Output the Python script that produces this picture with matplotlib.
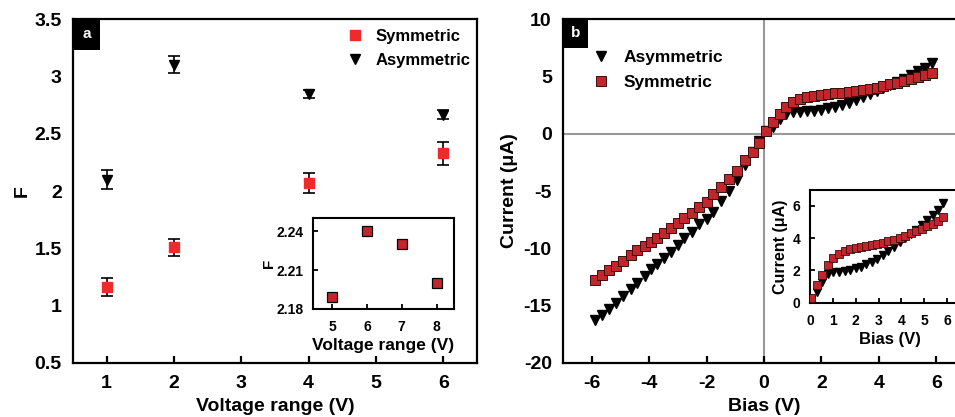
import numpy as np
import matplotlib
matplotlib.use('Agg')
import matplotlib.pyplot as plt
from matplotlib.patches import Rectangle

plt.rcParams['font.family'] = ['Liberation Sans', 'DejaVu Sans']
plt.rcParams['font.weight'] = 'bold'
plt.rcParams['axes.labelweight'] = 'bold'
plt.rcParams['axes.unicode_minus'] = False

# ---- panel a : F vs voltage range ----
vrange = [1, 2, 4, 6]
f_sym = [1.16, 1.51, 2.07, 2.33]
f_sym_err = [0.08, 0.075, 0.09, 0.10]
f_asym = [2.10, 3.10, 2.85, 2.665]
f_asym_err = [0.08, 0.075, 0.035, 0.04]

# inset a
vrange_in = [5, 6, 7, 8]
f_in = [2.189, 2.240, 2.230, 2.200]

# ---- panel b : I-V sweep ----
bias = [-5.88, -5.64, -5.41, -5.16, -4.91, -4.64, -4.42, -4.16, -3.94, -3.72,
        -3.48, -3.24, -3.00, -2.77, -2.51, -2.26, -2.00, -1.77, -1.50, -1.23,
        -0.95, -0.65, -0.39, -0.16,
        0.06, 0.30, 0.54, 0.78, 1.02, 1.27, 1.51, 1.75, 1.99, 2.23,
        2.47, 2.71, 2.95, 3.19, 3.43, 3.68, 3.92, 4.16, 4.40, 4.64,
        4.88, 5.12, 5.36, 5.60, 5.84]
i_sym = [-12.75, -12.32, -11.88, -11.50, -11.07, -10.58, -10.14, -9.76, -9.47, -9.12,
         -8.69, -8.22, -7.81, -7.38, -6.89, -6.36, -5.93, -5.26, -4.62, -3.98,
         -3.22, -2.29, -1.57, -0.78,
         0.25, 1.05, 1.72, 2.31, 2.72, 3.00, 3.18, 3.30, 3.39, 3.46,
         3.53, 3.59, 3.65, 3.71, 3.80, 3.89, 4.01, 4.15, 4.29, 4.44,
         4.59, 4.74, 4.90, 5.08, 5.30]
i_asym = [-16.24, -15.83, -15.31, -14.73, -14.15, -13.57, -12.99, -12.41, -11.82, -11.36,
          -10.87, -10.29, -9.70, -9.12, -8.54, -7.90, -7.46, -6.80, -5.90, -5.00,
          -4.00, -2.70, -1.60, -0.60,
          0.20, 0.62, 1.27, 1.73, 1.86, 1.90, 1.94, 2.00, 2.10, 2.20,
          2.35, 2.52, 2.69, 2.94, 3.19, 3.46, 3.73, 3.98, 4.23, 4.50,
          4.81, 5.12, 5.44, 5.75, 6.20]

RED = '#ee2a2a'
DKRED = '#c1262c'
EDGE = '#3a0d0d'


def style_axes(ax, lw=1.6, size=14, xpad=9, ypad=8, yticklen=0):
    for s in ax.spines.values():
        s.set_linewidth(lw)
    ax.tick_params(axis='x', direction='in', length=5, width=lw, labelsize=size, pad=xpad)
    ax.tick_params(axis='y', direction='in', length=yticklen, width=lw, labelsize=size, pad=ypad)


def style_inset(ax, size=10, xpad=7, ypad=6):
    for s in ax.spines.values():
        s.set_linewidth(1.5)
    ax.tick_params(direction='in', length=3.5, width=1.3, labelsize=size)
    ax.tick_params(axis='x', pad=xpad)
    ax.tick_params(axis='y', pad=ypad)


def panel_tag(ax, letter, w, h):
    ax.add_patch(Rectangle((0, 1 - h), w, h, transform=ax.transAxes,
                           facecolor='black', edgecolor='none', zorder=5, clip_on=False))
    ax.text(w / 2, 1 - h / 2, letter, transform=ax.transAxes, color='white',
            fontsize=11, fontweight='bold', ha='center', va='center', zorder=6)


fig = plt.figure(figsize=(9.55, 4.17), dpi=100)

# panel a
axa = fig.add_axes([0.0764, 0.1295, 0.4231, 0.8249])
ca = axa.errorbar(vrange, f_sym, yerr=f_sym_err, fmt='s', color=RED, ms=7,
                  ecolor='black', elinewidth=1.2, capsize=4, capthick=1.2)
cb = axa.errorbar(vrange, f_asym, yerr=f_asym_err, fmt='v', color='black', ms=7.5,
                  ecolor='black', elinewidth=1.2, capsize=4, capthick=1.2)
axa.set_xlim(0.5, 6.5)
axa.set_ylim(0.5, 3.5)
axa.set_xticks([1, 2, 3, 4, 5, 6])
axa.set_yticks([0.5, 1, 1.5, 2, 2.5, 3, 3.5])
axa.set_yticklabels(['0.5', '1', '1.5', '2', '2.5', '3', '3.5'])
style_axes(axa)
axa.set_xlabel('Voltage range (V)', fontsize=14, labelpad=4)
axa.set_ylabel('F', fontsize=14, labelpad=3)
axa.legend([ca[0], cb[0]], ['Symmetric', 'Asymmetric'], loc='upper right',
           bbox_to_anchor=(1.02, 1.015), frameon=False, fontsize=12,
           handletextpad=0.6, labelspacing=0.55, handlelength=1.2)
panel_tag(axa, 'a', 0.067, 0.09)

# inset a
axai = fig.add_axes([0.3277, 0.259, 0.1476, 0.2182])
axai.plot(vrange_in, f_in, 's', color=DKRED, mec='black', mew=0.9, ms=7.5)
axai.set_xlim(4.45, 8.5)
axai.set_ylim(2.18, 2.25)
axai.set_xticks([5, 6, 7, 8])
axai.set_yticks([2.18, 2.21, 2.24])
style_inset(axai, xpad=8, ypad=7)
axai.set_xlabel('Voltage range (V)', fontsize=12.5, labelpad=3)
axai.set_ylabel('F', fontsize=11, labelpad=0)

# panel b
axb = fig.add_axes([0.5895, 0.1295, 0.4210, 0.8249])
axb.axhline(0, color='#999999', lw=1.5, zorder=1)
axb.axvline(0, color='#999999', lw=1.5, zorder=1)
axb.plot(bias, i_asym, 'v', color='black', ms=7.5, zorder=3, label='Asymmetric')
axb.plot(bias, i_sym, 's', color=DKRED, mec=EDGE, mew=0.7, ms=6.5, zorder=4, label='Symmetric')
axb.set_xlim(-7, 7)
axb.set_ylim(-20, 10)
axb.set_xticks([-6, -4, -2, 0, 2, 4, 6])
axb.set_yticks([-20, -15, -10, -5, 0, 5, 10])
style_axes(axb)
axb.set_xlabel('Bias (V)', fontsize=14, labelpad=4)
axb.set_ylabel('Current (μA)', fontsize=14, labelpad=4)
axb.legend(loc='upper left', bbox_to_anchor=(0.035, 0.955), frameon=False,
           fontsize=12.5, handletextpad=0.8, labelspacing=0.55, handlelength=1.0)
panel_tag(axb, 'b', 0.062, 0.084)

# inset b : positive branch only
pos = [k for k, v in enumerate(bias) if v > 0]
axbi = fig.add_axes([0.8482, 0.2734, 0.1675, 0.2710])
axbi.plot([bias[k] for k in pos], [i_asym[k] for k in pos], 'v', color='black', ms=6, zorder=3)
axbi.plot([bias[k] for k in pos], [i_sym[k] for k in pos], 's', color=DKRED, mec=EDGE,
          mew=0.6, ms=5.2, zorder=4)
axbi.set_xlim(0, 7)
axbi.set_ylim(-0.06, 7)
axbi.set_xticks([0, 1, 2, 3, 4, 5, 6])
axbi.set_yticks([0, 2, 4, 6])
style_inset(axbi, xpad=8, ypad=7)
axbi.set_xlabel('Bias (V)', fontsize=12, labelpad=3)
axbi.set_ylabel('Current (μA)', fontsize=11.5, labelpad=3)

fig.savefig('out.png', dpi=100)
